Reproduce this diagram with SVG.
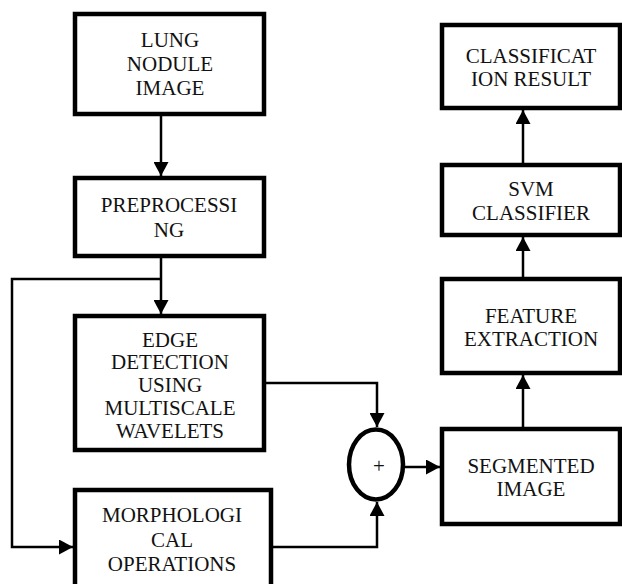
<svg xmlns="http://www.w3.org/2000/svg" width="622" height="584" viewBox="0 0 622 584">
<style>
.box{fill:#fff;stroke:#000;stroke-width:4.5}
.t{font-family:"Liberation Serif","Times New Roman",serif;font-size:21px;fill:#111;text-anchor:middle}
.c{fill:none;stroke:#000;stroke-width:2.5}
</style>
<defs>
<marker id="ah" markerUnits="userSpaceOnUse" markerWidth="15" markerHeight="15" viewBox="0 0 14 15" refX="14" refY="7.5" orient="auto">
<path d="M0,0 L14,7.5 L0,15 Z" fill="#000"/>
</marker>
</defs>
<rect width="622" height="584" fill="#fff"/>
<g id="connectors">
<path class="c" d="M161,116 V176" marker-end="url(#ah)"/>
<path class="c" d="M161,258 V314" marker-end="url(#ah)"/>
<path class="c" d="M161,279 H12 V547 H73" marker-end="url(#ah)"/>
<path class="c" d="M266,383 H377 V427" marker-end="url(#ah)"/>
<path class="c" d="M272,547 H377 V502" marker-end="url(#ah)"/>
<path class="c" d="M404,467 H440" marker-end="url(#ah)"/>
<path class="c" d="M523,427 V375" marker-end="url(#ah)"/>
<path class="c" d="M523,277 V237" marker-end="url(#ah)"/>
<path class="c" d="M523,163 V110" marker-end="url(#ah)"/>
</g>
<g id="lung">
<rect class="box" x="75" y="14" width="189" height="100"/>
<text class="t" x="170" y="47">LUNG</text>
<text class="t" x="170" y="71">NODULE</text>
<text class="t" x="170" y="95">IMAGE</text>
</g>
<g id="preprocessing">
<rect class="box" x="75" y="178" width="189" height="78"/>
<text class="t" x="169" y="212">PREPROCESSI</text>
<text class="t" x="169" y="237">NG</text>
</g>
<g id="edge">
<rect class="box" x="75" y="316" width="189" height="134"/>
<text class="t" x="170" y="347">EDGE</text>
<text class="t" x="170" y="369">DETECTION</text>
<text class="t" x="170" y="392">USING</text>
<text class="t" x="170" y="415">MULTISCALE</text>
<text class="t" x="170" y="438">WAVELETS</text>
</g>
<g id="morph">
<rect class="box" x="75" y="490" width="196" height="110"/>
<text class="t" x="172" y="522">MORPHOLOGI</text>
<text class="t" x="172" y="547">CAL</text>
<text class="t" x="172" y="571">OPERATIONS</text>
</g>
<g id="sum">
<ellipse cx="376" cy="464.5" rx="27" ry="35" fill="#fff" stroke="#000" stroke-width="4.5"/>
<text class="t" x="379" y="473">+</text>
</g>
<g id="segmented">
<rect class="box" x="442" y="429" width="178" height="95"/>
<text class="t" x="531" y="473">SEGMENTED</text>
<text class="t" x="531" y="496">IMAGE</text>
</g>
<g id="feature">
<rect class="box" x="442" y="279" width="178" height="94"/>
<text class="t" x="531" y="323">FEATURE</text>
<text class="t" x="531" y="346">EXTRACTION</text>
</g>
<g id="svm">
<rect class="box" x="442" y="165" width="178" height="70"/>
<text class="t" x="531" y="196">SVM</text>
<text class="t" x="531" y="220">CLASSIFIER</text>
</g>
<g id="classification">
<rect class="box" x="442" y="25" width="178" height="83"/>
<text class="t" x="531" y="63">CLASSIFICAT</text>
<text class="t" x="531" y="86">ION RESULT</text>
</g>
</svg>
